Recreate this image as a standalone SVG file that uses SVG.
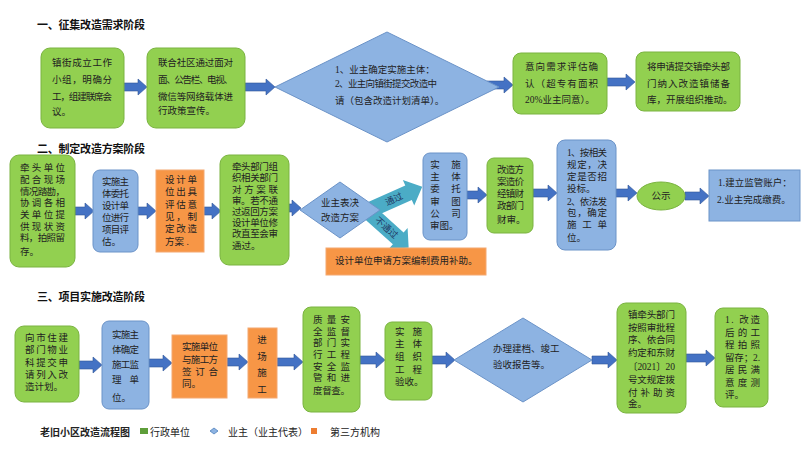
<svg xmlns="http://www.w3.org/2000/svg" width="809" height="449" viewBox="0 0 809 449">
<style>
text{font-family:"Liberation Serif","Noto Sans CJK SC",serif;font-size:9.5px;fill:#222;dominant-baseline:central}
.t{font-size:11px;font-weight:bold;fill:#111}
.g{fill:#92D050;stroke:#7AB340;stroke-width:1}
.b{fill:#8DB3E2;stroke:#6B93C8;stroke-width:1}
.o{fill:#F79646;stroke:#F4A870;stroke-width:1}
.ar{fill:#4472C4;stroke:#2F5597;stroke-width:0.6}
.tl{fill:#4BACC6}
.at{fill:#1F3864;font-size:9px}
.m{text-anchor:middle}
</style>
<rect width="809" height="449" fill="#fff"/>
<text class="t" x="37" y="25" textLength="108">一、征集改造需求阶段</text>
<text class="t" x="37" y="149" textLength="108">二、制定改造方案阶段</text>
<text class="t" x="37" y="297" textLength="108">三、项目实施改造阶段</text>

<g id="connectors">
<path class="ar" d="M123,83H138V79L147,87L138,95V91H123Z"/>
<path class="ar" d="M245,83H266V79L275,87L266,95V91H245Z"/>
<path class="ar" d="M487,81H504V77L513,85L504,93V89H487Z"/>
<path class="ar" d="M607,78H626V74L635,82L626,90V86H607Z"/>
<path class="ar" d="M75,207H85V203L94,211L85,219V215H75Z"/>
<path class="ar" d="M138,207H147V203L156,211L147,219V215H138Z"/>
<path class="ar" d="M204,207H212V203L221,211L212,219V215H204Z"/>
<path class="ar" d="M289,204H292V200L301,208L292,216V212H289Z"/>
<path class="ar" d="M467,191H478V187L487,195L478,203V199H467Z"/>
<path class="ar" d="M533,189H548V185L557,193L548,201V197H533Z"/>
<path class="ar" d="M616,189H628V185L637,193L628,201V197H616Z"/>
<path class="ar" d="M685,192H700V188L709,196L700,204V200H685Z"/>
<path class="ar" d="M79,361H93V357L102,365L93,373V369H79Z"/>
<path class="ar" d="M149,359H163V355L172,363L163,371V367H149Z"/>
<path class="ar" d="M227,358H239V354L248,362L239,370V366H227Z"/>
<path class="ar" d="M277,358H294V354L303,362L294,370V366H277Z"/>
<path class="ar" d="M360,356H376V352L385,360L376,368V364H360Z"/>
<path class="ar" d="M432,356H446V352L455,360L446,368V364H432Z"/>
<path class="ar" d="M592,356H608V352L617,360L608,368V364H592Z"/>
<path class="ar" d="M686,354H706V350L715,358L706,366V362H686Z"/>
<g transform="translate(372,209) rotate(-24)">
<path class="tl" d="M0,-8H40V-14L55,0L40,14V8H0Z"/>
<text class="at" x="24" y="0" text-anchor="middle">通过</text>
</g>
<g transform="translate(370,213) rotate(42)">
<path class="tl" d="M0,-8H38V-14L52,0L38,14V8H0Z"/>
<text class="at" x="22" y="0" text-anchor="middle">不通过</text>
</g>
</g>

<g id="n1"><rect class="g" x="41" y="48" width="83" height="80" rx="9"/>
<text x="52" y="63" textLength="60">镇街成立工作</text><text x="52" y="80" textLength="60">小组，明确分</text><text x="52" y="97" textLength="60">工，组建联席会</text><text x="52" y="112">议。</text></g>
<g id="n2"><rect class="g" x="147" y="48" width="98" height="80" rx="9"/>
<text x="158" y="63" textLength="75">联合社区通过面对</text><text x="158" y="80" textLength="75">面、公告栏、电视、</text><text x="158" y="97" textLength="75">微信等网络载体进</text><text x="158" y="111">行政策宣传。</text></g>
<g id="n3"><path class="b" d="M387,32L499,87L387,142L275,87Z"/>
<text x="335" y="70">1、业主确定实施主体：</text><text x="335" y="84" textLength="102">2、业主向镇街提交改造中</text><text x="335" y="101">请（包含改造计划清单）。</text></g>
<g id="n4"><rect class="g" x="513" y="53" width="94" height="61" rx="8"/>
<text x="525" y="67" textLength="73">意向需求评估确</text><text x="525" y="84" textLength="73">认（超专有面积</text><text x="525" y="100">20%业主同意）。</text></g>
<g id="n5"><rect class="g" x="636" y="52" width="104" height="59" rx="8"/>
<text x="647" y="67" textLength="83">将申请提交镇牵头部</text><text x="647" y="84" textLength="83">门纳入改造镇储备</text><text x="647" y="100">库，开展组织推动。</text></g>

<g id="r2a"><rect class="g" x="10" y="155" width="65" height="112" rx="9"/>
<text x="20" y="168" textLength="45">牵头单位</text><text x="20" y="180" textLength="45">配合现场</text><text x="20" y="192" textLength="45">情况踏勘，</text><text x="20" y="203" textLength="45">协调各相</text><text x="20" y="215" textLength="45">关单位提</text><text x="20" y="227" textLength="45">供现状资</text><text x="20" y="238" textLength="45">料，拍照留</text><text x="20" y="252">存。</text></g>
<g id="r2b"><rect class="b" x="93" y="170" width="45" height="82" rx="7"/>
<text x="102" y="182" textLength="27">实施主</text><text x="102" y="194" textLength="27">体委托</text><text x="102" y="206" textLength="27">设计单</text><text x="102" y="218" textLength="27">位进行</text><text x="102" y="230" textLength="27">项目评</text><text x="102" y="242">估。</text></g>
<g id="r2c"><rect class="o" x="156" y="170" width="48" height="82"/>
<text x="165" y="180" textLength="32">设计单</text><text x="165" y="192" textLength="32">位出具</text><text x="165" y="205" textLength="32">评估意</text><text x="165" y="217" textLength="32">见，制</text><text x="165" y="229" textLength="32">定改造</text><text x="165" y="242">方案 .</text></g>
<g id="r2d"><rect class="g" x="220" y="155" width="69" height="110" rx="9"/>
<text x="232" y="167" textLength="46">牵头部门组</text><text x="232" y="178" textLength="46">织相关部门</text><text x="232" y="190" textLength="46">对方案联</text><text x="232" y="201" textLength="46">审。若不通</text><text x="232" y="212" textLength="46">过返回方案</text><text x="232" y="223" textLength="46">设计单位修</text><text x="232" y="234" textLength="46">改直至会审</text><text x="232" y="246">通过。</text></g>
<g id="r2e"><path class="b" d="M340,182L380,210L340,238L300,210Z"/>
<text class="m" x="340" y="203">业主表决</text><text class="m" x="340" y="218">改造方案</text></g>
<g id="r2f"><rect class="b" x="423" y="153" width="44" height="87" rx="7"/>
<text class="m" x="435" y="165">实</text><text class="m" x="456" y="165">施</text><text class="m" x="435" y="177">主</text><text class="m" x="456" y="177">体</text><text class="m" x="435" y="189">委</text><text class="m" x="456" y="189">托</text><text class="m" x="435" y="202">审</text><text class="m" x="456" y="202">图</text><text class="m" x="435" y="214">公</text><text class="m" x="456" y="214">司</text><text x="430" y="226">审图。</text></g>
<g id="r2g"><rect class="g" x="487" y="158" width="46" height="75" rx="7"/>
<text x="497" y="170" textLength="27">改造方</text><text x="497" y="182" textLength="27">案造价</text><text x="497" y="194" textLength="27">经镇财</text><text x="497" y="206" textLength="27">政部门</text><text x="497" y="220">财审。</text></g>
<g id="r2h"><rect class="b" x="557" y="140" width="59" height="110" rx="8"/>
<text x="567" y="153" textLength="40">1、按相关</text><text x="567" y="165" textLength="40">规定，决</text><text x="567" y="177" textLength="40">定是否招</text><text x="567" y="189">投标。</text><text x="567" y="202" textLength="40">2、依法发</text><text x="567" y="213" textLength="40">包，确定</text><text x="567" y="225" textLength="40">施工单</text><text x="567" y="238">位。</text></g>
<g id="r2i"><ellipse class="g" cx="661" cy="196" rx="24" ry="14"/><text class="m" x="661" y="196">公示</text></g>
<g id="r2j"><rect class="b" x="709" y="170" width="91" height="51"/>
<text x="718" y="183">1.建立监管账户：</text><text x="717" y="200">2.业主完成缴费。</text></g>
<g id="r2k"><rect class="o" x="326" y="248" width="160" height="27"/>
<text x="335" y="261">设计单位申请方案编制费用补助。</text></g>

<g id="r3a"><rect class="g" x="15" y="326" width="64" height="76" rx="9"/>
<text x="25" y="338" textLength="43">向市住建</text><text x="25" y="350" textLength="43">部门物业</text><text x="25" y="363" textLength="43">科提交申</text><text x="25" y="375" textLength="43">请列入改</text><text x="25" y="387">造计划。</text></g>
<g id="r3b"><rect class="b" x="102" y="321" width="47" height="88" rx="7"/>
<text x="112" y="335" textLength="27">实施主</text><text x="112" y="350" textLength="27">体确定</text><text x="112" y="365" textLength="27">施工监</text><text x="112" y="380" textLength="27">理单</text><text x="112" y="398">位。</text></g>
<g id="r3c"><rect class="o" x="172" y="335" width="55" height="63"/>
<text x="182" y="347" textLength="36">实施单位</text><text x="182" y="360" textLength="36">与施工方</text><text x="182" y="372" textLength="36">签订合</text><text x="182" y="384">同。</text></g>
<g id="r3d"><rect class="o" x="248" y="328" width="29" height="70"/>
<text class="m" x="262" y="340">进</text><text class="m" x="262" y="357">场</text><text class="m" x="262" y="373">施</text><text class="m" x="262" y="390">工</text></g>
<g id="r3e"><rect class="g" x="303" y="307" width="57" height="105" rx="8"/>
<text x="313" y="320" textLength="37">质量安</text><text x="313" y="332" textLength="37">全监督</text><text x="313" y="343" textLength="37">部门实</text><text x="313" y="355" textLength="37">行工程</text><text x="313" y="367" textLength="37">安全监</text><text x="313" y="378" textLength="37">管和进</text><text x="313" y="391" textLength="37">度督查。</text></g>
<g id="r3f"><rect class="g" x="385" y="322" width="47" height="78" rx="7"/>
<text x="395" y="332" textLength="27">实施</text><text x="395" y="344" textLength="27">主体</text><text x="395" y="357" textLength="27">组织</text><text x="395" y="370" textLength="27">工程</text><text x="395" y="382">验收。</text></g>
<g id="r3g"><path class="b" d="M523,318L592,360L523,402L454,360Z"/>
<text x="493" y="349">办理建档、竣工</text><text x="493" y="365">验收报告等。</text></g>
<g id="r3h"><rect class="g" x="617" y="303" width="69" height="110" rx="9"/>
<text x="628" y="315" textLength="47">镇牵头部门</text><text x="628" y="328" textLength="47">按照审批程</text><text x="628" y="340" textLength="47">序、依合同</text><text x="628" y="353" textLength="47">约定和东财</text><text x="628" y="367" textLength="47">〔2021〕20</text><text x="628" y="380" textLength="47">号文规定拨</text><text x="628" y="393" textLength="47">付补助资</text><text x="628" y="404">金。</text></g>
<g id="r3i"><rect class="g" x="715" y="308" width="53" height="99" rx="8"/>
<text x="725" y="320" textLength="35">1. 改造</text><text x="725" y="333" textLength="35">后的工</text><text x="725" y="345" textLength="35">程拍照</text><text x="725" y="358" textLength="35">留存；2.</text><text x="725" y="370" textLength="35">居民满</text><text x="725" y="383" textLength="35">意度测</text><text x="725" y="395">评。</text></g>

<g id="legend">
<text x="40" y="432" style="font-weight:bold;font-size:10px">老旧小区改造流程图</text>
<rect x="140" y="428" width="8" height="6" fill="#5E9E3A"/>
<text x="150" y="432" style="font-size:10px">行政单位</text>
<path d="M214,428L218,431L214,434L210,431Z" fill="#8DB3E2" stroke="#4F81BD" stroke-width="0.8"/>
<text x="228" y="432" style="font-size:10px">业主（业主代表）</text>
<rect x="311" y="428" width="6" height="6" fill="#ED7D31"/>
<text x="330" y="432" style="font-size:10px">第三方机构</text>
</g>
</svg>
